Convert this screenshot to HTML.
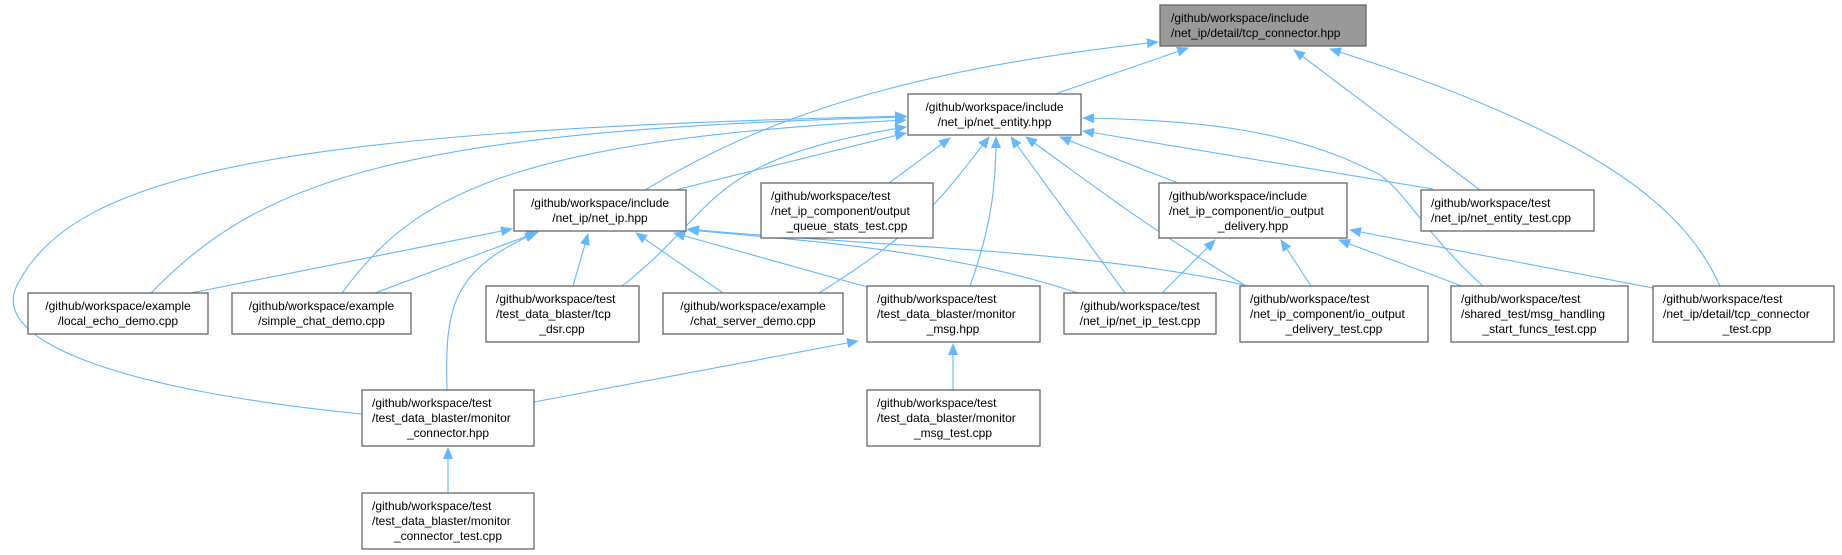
<!DOCTYPE html>
<html><head><meta charset="utf-8"><style>
html,body{margin:0;padding:0;background:#fff;width:1842px;height:555px;overflow:hidden}
svg{display:block}
text{font-family:"Liberation Sans",Helvetica,Arial,sans-serif;font-size:12px;fill:#000}
.n{fill:#fff;stroke:#666;stroke-width:1.3}
.e{fill:none;stroke:#63b8ff;stroke-width:1.1}
</style></head><body>
<svg width="1842" height="555" viewBox="0 0 1842 555">
<defs><marker id="a" markerWidth="12" markerHeight="10" refX="11" refY="5" orient="auto" markerUnits="userSpaceOnUse"><path d="M0,0 L12,5 L0,10 z" fill="#63b8ff"/></marker></defs>
<g class="e" marker-end="url(#a)">
<!-- to tcp_connector.hpp -->
<path d="M1055,94 L1188,48" marker-end="url(#a)"/>
<path d="M645,190 C760,120 900,70 1158,42" marker-end="url(#a)"/>
<path d="M1480,190 L1294,50" marker-end="url(#a)"/>
<path d="M1720,286 C1690,220 1620,140 1330,49" marker-end="url(#a)"/>
<!-- to net_entity.hpp -->
<path d="M675,190 L906,133" marker-end="url(#a)"/>
<path d="M889,183 L950,138" marker-end="url(#a)"/>
<path d="M151,293 C260,180 400,130 906,117" marker-end="url(#a)"/>
<path d="M342,293 C410,200 500,140 906,120" marker-end="url(#a)"/>
<path d="M362,414 C120,390 -20,340 20,280 C80,170 300,130 906,116" marker-end="url(#a)"/>
<path d="M622,286 C720,210 700,160 906,127" marker-end="url(#a)"/>
<path d="M819,293 C920,230 940,200 989,137" marker-end="url(#a)"/>
<path d="M970,286 C990,230 996,190 996,137" marker-end="url(#a)"/>
<path d="M1125,293 L1011,137" marker-end="url(#a)"/>
<path d="M1248,287 C1150,230 1100,190 1026,137" marker-end="url(#a)"/>
<path d="M1178,183 L1060,137" marker-end="url(#a)"/>
<path d="M1433,189 L1083,131" marker-end="url(#a)"/>
<path d="M1483,286 C1420,230 1400,180 1370,170 C1290,130 1200,120 1083,118" marker-end="url(#a)"/>
<!-- to net_ip.hpp -->
<path d="M191,293 L512,229" marker-end="url(#a)"/>
<path d="M375,293 L538,232" marker-end="url(#a)"/>
<path d="M447,390 C445,310 450,270 536,233" marker-end="url(#a)"/>
<path d="M573,286 L588,234" marker-end="url(#a)"/>
<path d="M723,293 L636,233" marker-end="url(#a)"/>
<path d="M867,287 L674,233" marker-end="url(#a)"/>
<path d="M1078,293 C950,250 800,240 688,230" marker-end="url(#a)"/>
<path d="M1248,286 C1100,250 850,245 688,229" marker-end="url(#a)"/>
<!-- to io_output_delivery.hpp -->
<path d="M1162,293 L1215,240" marker-end="url(#a)"/>
<path d="M1311,286 L1281,240" marker-end="url(#a)"/>
<path d="M1462,286 L1339,240" marker-end="url(#a)"/>
<path d="M1653,288 L1350,230" marker-end="url(#a)"/>
<!-- monitor -->
<path d="M534,402 L858,341" marker-end="url(#a)"/>
<path d="M953,390 L953,344" marker-end="url(#a)"/>
<path d="M448,493 L448,448" marker-end="url(#a)"/>
</g>
<!-- nodes -->
<rect x="1160" y="5" width="206" height="41" fill="#999" stroke="#666" stroke-width="1.3"/>
<text x="1171" y="22">/github/workspace/include</text><text x="1171" y="37">/net_ip/detail/tcp_connector.hpp</text>

<rect class="n" x="908" y="94" width="173" height="41"/>
<text x="994.5" y="111" text-anchor="middle">/github/workspace/include</text><text x="994.5" y="126" text-anchor="middle">/net_ip/net_entity.hpp</text>

<rect class="n" x="514" y="190" width="172" height="41"/>
<text x="600" y="207" text-anchor="middle">/github/workspace/include</text><text x="600" y="222" text-anchor="middle">/net_ip/net_ip.hpp</text>

<rect class="n" x="761" y="183" width="172" height="55"/>
<text x="771" y="200">/github/workspace/test</text><text x="771" y="215">/net_ip_component/output</text><text x="847" y="230" text-anchor="middle">_queue_stats_test.cpp</text>

<rect class="n" x="1159" y="183" width="188" height="55"/>
<text x="1169" y="200">/github/workspace/include</text><text x="1169" y="215">/net_ip_component/io_output</text><text x="1253" y="230" text-anchor="middle">_delivery.hpp</text>

<rect class="n" x="1421" y="190" width="173" height="41"/>
<text x="1431" y="207">/github/workspace/test</text><text x="1431" y="222">/net_ip/net_entity_test.cpp</text>

<rect class="n" x="28" y="293" width="180" height="41"/>
<text x="118" y="310" text-anchor="middle">/github/workspace/example</text><text x="118" y="325" text-anchor="middle">/local_echo_demo.cpp</text>

<rect class="n" x="232" y="293" width="179" height="41"/>
<text x="321.5" y="310" text-anchor="middle">/github/workspace/example</text><text x="321.5" y="325" text-anchor="middle">/simple_chat_demo.cpp</text>

<rect class="n" x="486" y="286" width="153" height="56"/>
<text x="496" y="303">/github/workspace/test</text><text x="496" y="318">/test_data_blaster/tcp</text><text x="562" y="333" text-anchor="middle">_dsr.cpp</text>

<rect class="n" x="663" y="293" width="180" height="41"/>
<text x="753" y="310" text-anchor="middle">/github/workspace/example</text><text x="753" y="325" text-anchor="middle">/chat_server_demo.cpp</text>

<rect class="n" x="867" y="286" width="173" height="56"/>
<text x="877" y="303">/github/workspace/test</text><text x="877" y="318">/test_data_blaster/monitor</text><text x="953" y="333" text-anchor="middle">_msg.hpp</text>

<rect class="n" x="1064" y="293" width="152" height="41"/>
<text x="1140" y="310" text-anchor="middle">/github/workspace/test</text><text x="1140" y="325" text-anchor="middle">/net_ip/net_ip_test.cpp</text>

<rect class="n" x="1240" y="286" width="188" height="56"/>
<text x="1250" y="303">/github/workspace/test</text><text x="1250" y="318">/net_ip_component/io_output</text><text x="1334" y="333" text-anchor="middle">_delivery_test.cpp</text>

<rect class="n" x="1451" y="286" width="177" height="56"/>
<text x="1461" y="303">/github/workspace/test</text><text x="1461" y="318">/shared_test/msg_handling</text><text x="1539.5" y="333" text-anchor="middle">_start_funcs_test.cpp</text>

<rect class="n" x="1653" y="286" width="181" height="56"/>
<text x="1663" y="303">/github/workspace/test</text><text x="1663" y="318">/net_ip/detail/tcp_connector</text><text x="1747" y="333" text-anchor="middle">_test.cpp</text>

<rect class="n" x="362" y="390" width="172" height="56"/>
<text x="372" y="407">/github/workspace/test</text><text x="372" y="422">/test_data_blaster/monitor</text><text x="448" y="437" text-anchor="middle">_connector.hpp</text>

<rect class="n" x="867" y="390" width="173" height="56"/>
<text x="877" y="407">/github/workspace/test</text><text x="877" y="422">/test_data_blaster/monitor</text><text x="953" y="437" text-anchor="middle">_msg_test.cpp</text>

<rect class="n" x="362" y="493" width="172" height="56"/>
<text x="372" y="510">/github/workspace/test</text><text x="372" y="525">/test_data_blaster/monitor</text><text x="448" y="540" text-anchor="middle">_connector_test.cpp</text>
</svg>
</body></html>
